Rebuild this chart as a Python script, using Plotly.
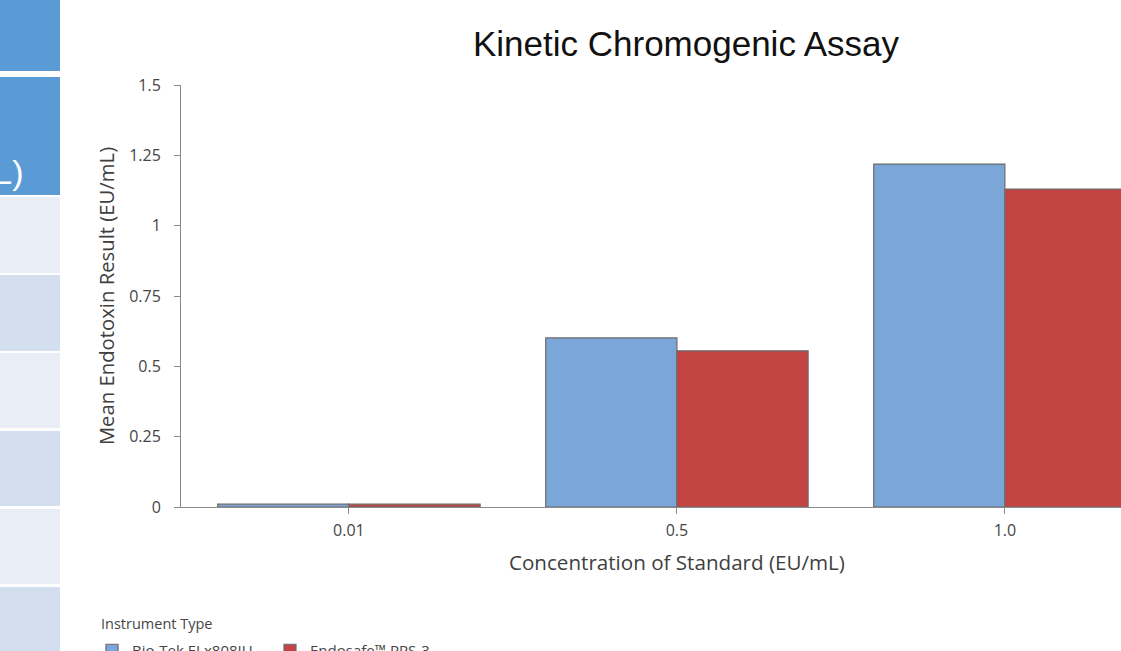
import plotly.graph_objects as go

# Data
categories = ["0.01", "0.5", "1.0"]
biotek_values = [0.01, 0.601, 1.219]
endosafe_values = [0.01, 0.555, 1.130]
series_names = ["Bio-Tek ELx808IU", "Endosafe™ PPS-3"]
y_ticks = [0, 0.25, 0.5, 0.75, 1, 1.25, 1.5]
y_tick_text = ["0", "0.25", "0.5", "0.75", "1", "1.25", "1.5"]

W, H = 1121, 651
ML, MR, MT, MB = 181, 0, 85, 144
PW, PH = W - ML - MR, H - MT - MB


def px_x(px):
    return (px - ML) / PW


def px_y(py):
    return (H - MB - py) / PH


AXIS_FONT = "Open Sans, Noto Sans, sans-serif"

fig = go.Figure()
fig.add_trace(go.Bar(
    x=categories, y=biotek_values, name=series_names[0],
    marker=dict(color="#7BA7D8", line=dict(color="#6b6b6b", width=1.2)),
))
fig.add_trace(go.Bar(
    x=categories, y=endosafe_values, name=series_names[1],
    marker=dict(color="#C44444", line=dict(color="#6b6b6b", width=1.2)),
))

# Side panel of the slide table (left edge)
row_bounds = [(0, 71), (77, 195), (197, 273), (275, 351), (353, 428),
              (431, 506), (509, 584), (587, 660)]
row_colors = ["#5B9BD5", "#5B9BD5", "#E9EDF5", "#D3DEEF", "#E9EDF5",
              "#D3DEEF", "#E9EDF5", "#D3DEEF"]
shapes = []
for (top, bot), col in zip(row_bounds, row_colors):
    shapes.append(dict(type="rect", xref="paper", yref="paper",
                       x0=px_x(-5), x1=px_x(60), y0=px_y(bot), y1=px_y(top),
                       fillcolor=col, line=dict(width=0), layer="above"))

fig.update_layout(
    width=W, height=H,
    margin=dict(l=ML, r=MR, t=MT, b=MB, autoexpand=False),
    paper_bgcolor="white", plot_bgcolor="white",
    barmode="group", bargap=0.2, bargroupgap=0,
    title=dict(text="Kinetic Chromogenic Assay", x=px_x(686), xref="paper",
               xanchor="center", y=1 - 44 / H, yanchor="middle",
               font=dict(family="Liberation Sans Narrow, Arial Narrow, Liberation Sans, sans-serif",
                         size=35, color="#111111")),
    xaxis=dict(
        type="category", range=[-0.512, 2.354],
        showline=True, linecolor="#8a8a8a", linewidth=1,
        ticks="outside", ticklen=6, tickcolor="#8a8a8a",
        tickfont=dict(family=AXIS_FONT, size=16, color="#454545"),
        ticklabelstandoff=3,
        showgrid=False, zeroline=False,
    ),
    yaxis=dict(
        range=[0, 1.5], tickvals=y_ticks, ticktext=y_tick_text,
        showline=True, linecolor="#8a8a8a", linewidth=1,
        ticks="outside", ticklen=6, tickcolor="#8a8a8a",
        tickfont=dict(family=AXIS_FONT, size=16, color="#454545"),
        ticklabelstandoff=10,
        showgrid=False, zeroline=False,
        title=dict(text="Mean Endotoxin Result (EU/mL)", standoff=9,
                   font=dict(family=AXIS_FONT, size=20.3, color="#404040")),
    ),
    legend=dict(
        orientation="h", x=px_x(92), xanchor="left", y=px_y(634), yanchor="top",
        font=dict(family=AXIS_FONT, size=15, color="#454545"),
        entrywidth=133, entrywidthmode="pixels",
        bgcolor="rgba(0,0,0,0)",
    ),
    shapes=shapes,
    annotations=[
        dict(text="Concentration of Standard (EU/mL)", xref="paper", yref="paper",
             x=px_x(677), y=px_y(562), xanchor="center", yanchor="middle",
             showarrow=False,
             font=dict(family=AXIS_FONT, size=20.6, color="#404040")),
        dict(text="Instrument Type", xref="paper", yref="paper",
             x=px_x(99), y=px_y(623), xanchor="left", yanchor="middle",
             showarrow=False,
             font=dict(family=AXIS_FONT, size=14.5, color="#454545")),
        dict(text="mL)", xref="paper", yref="paper",
             x=px_x(26), y=px_y(172), xanchor="right", yanchor="middle",
             showarrow=False,
             font=dict(family="Liberation Sans, Arial, sans-serif",
                       size=34, color="white")),
    ],
)

fig.write_html("out.html")
